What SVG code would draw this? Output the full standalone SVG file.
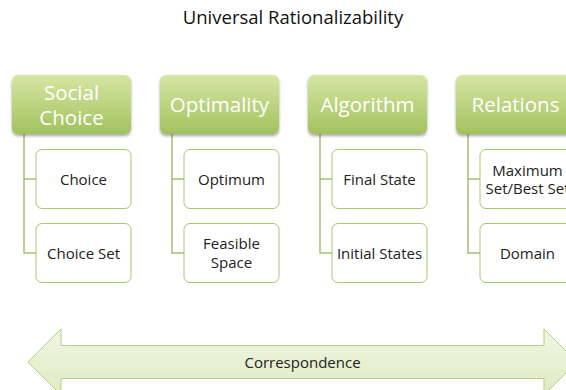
<svg xmlns="http://www.w3.org/2000/svg" width="566" height="390" viewBox="0 0 566 390">
<defs>
<linearGradient id="hg" x1="0" y1="0" x2="0" y2="1">
<stop offset="0" stop-color="#d6e6a4"/>
<stop offset="0.5" stop-color="#bcd480"/>
<stop offset="1" stop-color="#a2c25e"/>
</linearGradient>
<linearGradient id="ag" x1="0" y1="0" x2="0" y2="1">
<stop offset="0" stop-color="#f1f6e3"/>
<stop offset="1" stop-color="#dfebc2"/>
</linearGradient>
<filter id="sh" x="-10%" y="-10%" width="120%" height="130%">
<feGaussianBlur in="SourceAlpha" stdDeviation="1.5"/>
<feOffset dy="1.5" result="b"/>
<feComponentTransfer><feFuncA type="linear" slope="0.35"/></feComponentTransfer>
<feMerge><feMergeNode/><feMergeNode in="SourceGraphic"/></feMerge>
</filter>
</defs>
<style>
.hd{fill:url(#hg);filter:url(#sh)}
.ch{fill:#ffffff;stroke:#a9c772;stroke-width:1}
.ht{font-family:"Open Sans","Liberation Sans",sans-serif;font-size:20.5px;fill:#ffffff;text-anchor:middle}
.ct{font-family:"Open Sans","Liberation Sans",sans-serif;font-size:15px;fill:#222222;text-anchor:middle}
.cn{fill:none;stroke:#a7bf72;stroke-width:1.5}
</style>
<text x="293" y="24" font-family="'Open Sans','Liberation Sans',sans-serif" font-size="18.5" fill="#111111" text-anchor="middle">Universal Rationalizability</text>
<g id="connectors">
<path class="cn" d="M24 134V253H36M24 179H36"/>
<path class="cn" d="M172 134V253H184M172 179H184"/>
<path class="cn" d="M320 134V253H332M320 179H332"/>
<path class="cn" d="M468 134V253H480M468 179H480"/>
</g>
<g id="social-choice">
<rect class="hd" x="12" y="75" width="119" height="59" rx="6"/>
<text class="ht" x="71.5" y="100">Social</text>
<text class="ht" x="71.5" y="125">Choice</text>
</g>
<g id="choice">
<rect class="ch" x="36" y="149.5" width="95" height="59" rx="6"/>
<text class="ct" x="83.5" y="184.5">Choice</text>
</g>
<g id="choice-set">
<rect class="ch" x="36" y="223.5" width="95" height="59" rx="6"/>
<text class="ct" x="83.5" y="258.5">Choice Set</text>
</g>
<g id="optimality">
<rect class="hd" x="160" y="75" width="119" height="59" rx="6"/>
<text class="ht" x="219.5" y="112">Optimality</text>
</g>
<g id="optimum">
<rect class="ch" x="184" y="149.5" width="95" height="59" rx="6"/>
<text class="ct" x="231.5" y="184.5">Optimum</text>
</g>
<g id="feasible-space">
<rect class="ch" x="184" y="223.5" width="95" height="59" rx="6"/>
<text class="ct" x="231.5" y="249">Feasible</text>
<text class="ct" x="231.5" y="268">Space</text>
</g>
<g id="algorithm">
<rect class="hd" x="308" y="75" width="119" height="59" rx="6"/>
<text class="ht" x="367.5" y="112">Algorithm</text>
</g>
<g id="final-state">
<rect class="ch" x="332" y="149.5" width="95" height="59" rx="6"/>
<text class="ct" x="379.5" y="184.5">Final State</text>
</g>
<g id="initial-states">
<rect class="ch" x="332" y="223.5" width="95" height="59" rx="6"/>
<text class="ct" x="379.5" y="258.5">Initial States</text>
</g>
<g id="relations">
<rect class="hd" x="456" y="75" width="119" height="59" rx="6"/>
<text class="ht" x="515.5" y="112">Relations</text>
</g>
<g id="maximum-set">
<rect class="ch" x="480" y="149.5" width="95" height="59" rx="6"/>
<text class="ct" x="527.5" y="176">Maximum</text>
<text class="ct" x="527.5" y="194">Set/Best Set</text>
</g>
<g id="domain">
<rect class="ch" x="480" y="223.5" width="95" height="59" rx="6"/>
<text class="ct" x="527.5" y="258.5">Domain</text>
</g>
<g id="correspondence">
<path d="M28 362L61 329V345.5H544V329L577 362L544 395V378.5H61V395Z" fill="url(#ag)" stroke="#b5d082" stroke-width="1"/>
<text class="ct" x="302.5" y="367.5">Correspondence</text>
</g>
</svg>
